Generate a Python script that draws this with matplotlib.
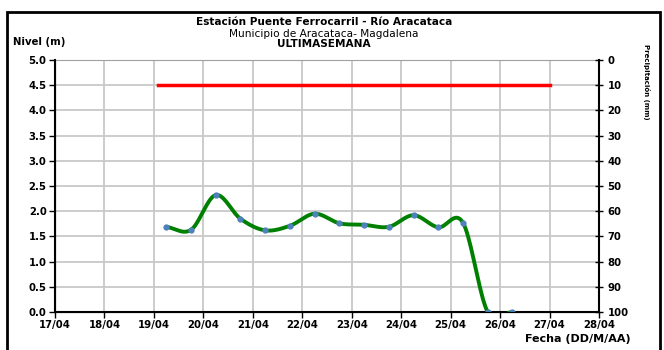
import matplotlib.pyplot as plt
import numpy as np
from matplotlib.patches import Rectangle

plt.rcParams['font.family'] = ['DejaVu Sans']

# Datos: dia del mes (abril), nivel en metros
dias = [19.25, 19.75, 20.25, 20.75, 21.25, 21.75, 22.25, 22.75,
        23.25, 23.75, 24.25, 24.75, 25.25, 25.75, 26.25]
nivel = [1.69, 1.63, 2.32, 1.85, 1.62, 1.71, 1.95, 1.76,
         1.73, 1.69, 1.92, 1.68, 1.77, 0.0, 0.0]
alerta_dias = [19.08, 27.0]
alerta_nivel = [4.5, 4.5]
xticks = list(range(17, 29))
xlabels = ['%02d/04' % d for d in xticks]
yticks = [0.0, 0.5, 1.0, 1.5, 2.0, 2.5, 3.0, 3.5, 4.0, 4.5, 5.0]
prec_ticks = [0, 10, 20, 30, 40, 50, 60, 70, 80, 90, 100]


def suavizar(x, y, n=20):
    # curva suavizada tipo Catmull-Rom (como la linea suavizada de Excel)
    x = np.asarray(x, float)
    y = np.asarray(y, float)
    px = np.concatenate([[2 * x[0] - x[1]], x, [2 * x[-1] - x[-2]]])
    py = np.concatenate([[2 * y[0] - y[1]], y, [2 * y[-1] - y[-2]]])
    xs, ys = [], []
    t = np.linspace(0, 1, n)
    for i in range(1, len(px) - 2):
        for p, out in ((px, xs), (py, ys)):
            p0, p1, p2, p3 = p[i - 1], p[i], p[i + 1], p[i + 2]
            out.extend(0.5 * (2 * p1 + (-p0 + p2) * t
                              + (2 * p0 - 5 * p1 + 4 * p2 - p3) * t ** 2
                              + (-p0 + 3 * p1 - 3 * p2 + p3) * t ** 3))
    return np.array(xs), np.array(ys)


fig = plt.figure(figsize=(6.64, 3.5), dpi=100)
ax = fig.add_axes([0.0828, 0.1086, 0.8193, 0.72])

ax.plot(alerta_dias, alerta_nivel, color='#ff0000', lw=2.5, zorder=3)
sx, sy = suavizar(dias, nivel)
ax.plot(sx, sy, color='#008000', lw=2.8, zorder=4, solid_capstyle='round')
ax.plot(dias, nivel, 'o', color='#4f81bd', ms=3.5, zorder=5)

ax.set_xlim(17, 28)
ax.set_ylim(0, 5)
ax.set_xticks(xticks)
ax.set_xticklabels(xlabels)
ax.set_yticks(yticks)
ax.set_yticklabels(['%.1f' % v for v in yticks])
ax.grid(True, color='#c8c8c8', lw=1.3)
ax.set_axisbelow(True)
ax.spines['top'].set_color('#a0a0a0')
for s in ('left', 'bottom'):
    ax.spines[s].set_linewidth(1.5)
ax.spines['right'].set_visible(False)
ax.tick_params(axis='both', labelsize=7.3, width=1, length=4, pad=2)
for lab in ax.get_xticklabels() + ax.get_yticklabels():
    lab.set_fontweight('bold')

ax2 = ax.twinx()
ax2.set_ylim(100, 0)
ax2.set_yticks(prec_ticks)
ax2.spines['right'].set_linewidth(1.5)
ax2.spines['top'].set_visible(False)
ax2.tick_params(axis='y', labelsize=7.3, direction='inout', length=6, width=1, pad=3)
for lab in ax2.get_yticklabels():
    lab.set_fontweight('bold')

fig.text(0.488, 0.936, 'Estación Puente Ferrocarril - Río Aracataca', ha='center',
         va='center', fontsize=7.6, fontweight='bold')
fig.text(0.488, 0.904, 'Municipio de Aracataca- Magdalena', ha='center', va='center',
         fontsize=7.6)
fig.text(0.488, 0.873, 'ULTIMASEMANA', ha='center', va='center', fontsize=7.6,
         fontweight='bold')
fig.text(0.02, 0.88, 'Nivel (m)', va='center', fontsize=7.3, fontweight='bold')
fig.text(0.95, 0.03, 'Fecha (DD/M/AA)', ha='right', va='center', fontsize=8,
         fontweight='bold')
fig.text(0.973, 0.875, 'Precipitación (mm)', rotation=-90, va='top', ha='center',
         fontsize=5, fontweight='bold')

fig.patches.append(Rectangle((0.01, -0.05), 0.984, 1.015, transform=fig.transFigure,
                             fill=False, ec='black', lw=2))

fig.savefig('out.png', dpi=100)
